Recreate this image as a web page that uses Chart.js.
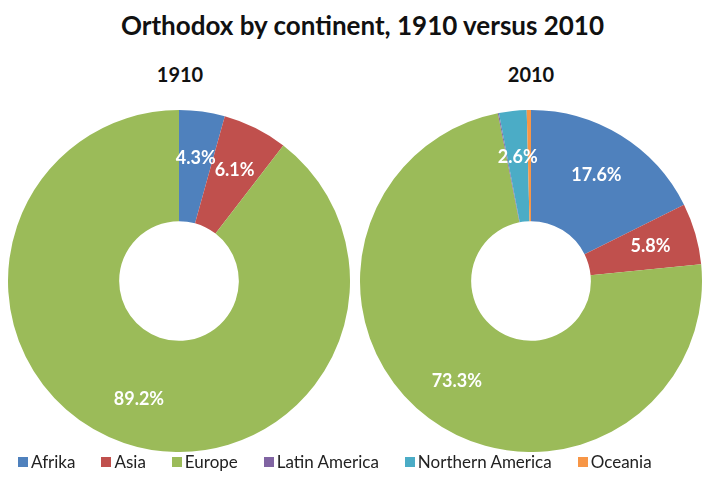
<!DOCTYPE html>
<html>
<head>
<meta charset="utf-8">
<script src="https://cdn.jsdelivr.net/npm/chart.js@4"></script>
<style>
  html, body { margin: 0; padding: 0; background: #fff; }
  body { width: 709px; height: 497px; position: relative; overflow: hidden; font-family: Lato, "Open Sans", sans-serif; }
  #title { position: absolute; top: 9px; left: 8px; width: 709px; text-align: center; font-weight: bold; font-size: 26px; color: #111; }
  .sub { position: absolute; top: 62px; width: 120px; text-align: center; font-weight: bold; font-size: 20px; color: #111; }
  .box { position: absolute; top: 110px; width: 342px; height: 342px; }
  #legend { position: absolute; top: 451px; left: 18px; display: flex; gap: 26px; font-size: 17px; color: #222; }
  #legend span.sq { display: inline-block; width: 10px; height: 10px; margin-right: 3px; }
  #legend div { display: flex; align-items: center; }
</style>
</head>
<body>
<div id="title">Orthodox by continent, 1910 versus 2010</div>
<div class="sub" style="left:120px">1910</div>
<div class="sub" style="left:471px">2010</div>
<div class="box" style="left:8px"><canvas id="c1910"></canvas></div>
<div class="box" style="left:360px"><canvas id="c2010"></canvas></div>
<div id="legend"></div>
<script>
// 大陸ごとの正教会の割合（%）
const continents = ['Afrika', 'Asia', 'Europe', 'Latin America', 'Northern America', 'Oceania'];
const share1910 = [4.3, 6.1, 89.2, 0, 0, 0];
const share2010 = [17.6, 5.8, 73.3, 0.1, 2.6, 0.4];
const labels1910 = ['4.3%', '6.1%', '89.2%', '', '', ''];
const labels2010 = ['17.6%', '5.8%', '73.3%', '', '2.6%', ''];
const colors = ['#4F81BD', '#C0504D', '#9BBB59', '#8064A2', '#4BACC6', '#F79646'];

// スライス上にパーセント表示
const sliceLabels = {
    id: 'sliceLabels',
    afterDatasetsDraw(chart) {
        const ctx = chart.ctx;
        const texts = chart.options.plugins.sliceLabels.texts;
        const meta = chart.getDatasetMeta(0);
        ctx.save();
        ctx.fillStyle = '#fff';
        ctx.font = 'bold 18px Lato, sans-serif';
        ctx.textAlign = 'center';
        ctx.textBaseline = 'middle';
        meta.data.forEach((arc, i) => {
            if (!texts[i]) return;
            const p = arc.getProps(['x', 'y', 'startAngle', 'endAngle', 'innerRadius', 'outerRadius'], true);
            const mid = (p.startAngle + p.endAngle) / 2;
            const r = p.innerRadius + (p.outerRadius - p.innerRadius) * 0.58;
            ctx.fillText(texts[i], p.x + Math.cos(mid) * r, p.y + Math.sin(mid) * r);
        });
        ctx.restore();
    }
};

function makeChart(id, values, texts) {
    const ctx = document.getElementById(id).getContext('2d');
    return new Chart(ctx, {
        type: 'doughnut',
        data: {
            labels: continents,
            datasets: [{
                data: values,
                backgroundColor: colors,
                borderWidth: 0,
                hoverOffset: 0
            }]
        },
        options: {
            responsive: true,
            maintainAspectRatio: false,
            animation: false,
            cutout: '35%',
            layout: { padding: 0 },
            plugins: {
                legend: { display: false },
                tooltip: { enabled: false },
                sliceLabels: { texts: texts }
            }
        },
        plugins: [sliceLabels]
    });
}

makeChart('c1910', share1910, labels1910);
makeChart('c2010', share2010, labels2010);

// 凡例
const legend = document.getElementById('legend');
continents.forEach((name, i) => {
    const item = document.createElement('div');
    item.innerHTML = `<span class="sq" style="background:${colors[i]}"></span>${name}`;
    legend.appendChild(item);
});
</script>
</body>
</html>
